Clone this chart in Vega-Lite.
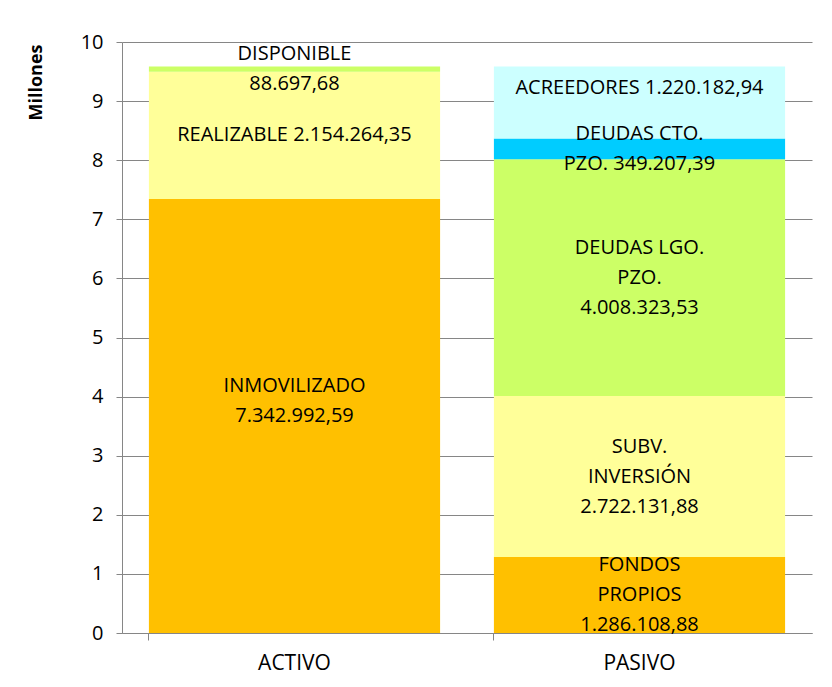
{
  "$schema": "https://vega.github.io/schema/vega-lite/v6.json",
  "autosize": "none",
  "width": 690,
  "height": 591,
  "padding": {"left": 122, "top": 42, "right": 20, "bottom": 54},
  "background": "white",
  "config": {"view": {"stroke": null}, "font": "Open Sans"},
  "data": {"values": [
    {"cat": "ACTIVO", "seg": "INMOVILIZADO", "order": 1, "value": 7.34299259, "label": ["INMOVILIZADO", "7.342.992,59", ""]},
    {"cat": "ACTIVO", "seg": "REALIZABLE", "order": 2, "value": 2.15426435, "label": ["REALIZABLE 2.154.264,35"]},
    {"cat": "ACTIVO", "seg": "DISPONIBLE", "order": 3, "value": 0.08869768, "label": ["DISPONIBLE", "88.697,68"]},
    {"cat": "PASIVO", "seg": "FONDOS PROPIOS", "order": 1, "value": 1.28610888, "label": ["FONDOS", "PROPIOS", "1.286.108,88"]},
    {"cat": "PASIVO", "seg": "SUBV. INVERSIÓN", "order": 2, "value": 2.72213188, "label": ["SUBV.", "INVERSIÓN", "2.722.131,88"]},
    {"cat": "PASIVO", "seg": "DEUDAS LGO. PZO.", "order": 3, "value": 4.00832353, "label": ["DEUDAS LGO.", "PZO.", "4.008.323,53"]},
    {"cat": "PASIVO", "seg": "DEUDAS CTO. PZO.", "order": 4, "value": 0.34920739, "label": ["DEUDAS CTO.", "PZO. 349.207,39"]},
    {"cat": "PASIVO", "seg": "ACREEDORES", "order": 5, "value": 1.22018294, "label": ["ACREEDORES 1.220.182,94", ""]}
  ]},
  "transform": [
    {"stack": "value", "groupby": ["cat"], "sort": [{"field": "order", "order": "ascending"}], "as": ["y0", "y1"]},
    {"calculate": "(datum.y0 + datum.y1) / 2", "as": "mid"}
  ],
  "encoding": {
    "x": {
      "field": "cat", "type": "nominal", "title": null,
      "scale": {"paddingInner": 0.156, "paddingOuter": 0.078},
      "axis": {
        "labelAngle": 0, "labelFontSize": 21, "labelColor": "black", "labelPadding": 12,
        "domainColor": "#868686", "tickColor": "#868686", "tickSize": 7, "bandPosition": 0,
        "grid": false
      }
    }
  },
  "layer": [
    {
      "mark": {"type": "bar"},
      "encoding": {
        "y": {
          "field": "y0", "type": "quantitative",
          "scale": {"domain": [0, 10]},
          "title": "Millones",
          "axis": {
            "values": [0, 1, 2, 3, 4, 5, 6, 7, 8, 9, 10], "format": "d",
            "labelFontSize": 20, "labelColor": "black", "labelPadding": 13,
            "tickSize": 6, "tickColor": "#868686", "domainColor": "#868686",
            "grid": true, "gridColor": "#868686",
            "titleFontSize": 18, "titleFontWeight": "bold", "titleColor": "black",
            "titleX": -86, "titleY": 40, "titleAngle": -90, "titleAlign": "center", "titleBaseline": "middle"
          }
        },
        "y2": {"field": "y1"},
        "color": {
          "field": "seg", "type": "nominal", "legend": null,
          "scale": {
            "domain": ["INMOVILIZADO", "REALIZABLE", "DISPONIBLE", "FONDOS PROPIOS", "SUBV. INVERSIÓN", "DEUDAS LGO. PZO.", "DEUDAS CTO. PZO.", "ACREEDORES"],
            "range": ["#FFC000", "#FFFF99", "#CCFF66", "#FFC000", "#FFFF99", "#CCFF66", "#00CCFF", "#CCFFFF"]
          }
        }
      }
    },
    {
      "transform": [{"filter": "length(datum.label) == 1"}],
      "mark": {"type": "text", "fontSize": 20, "color": "black", "lineHeight": 30, "align": "center", "baseline": "middle"},
      "encoding": {"y": {"field": "mid", "type": "quantitative"}, "text": {"field": "label"}}
    },
    {
      "transform": [{"filter": "length(datum.label) == 2"}],
      "mark": {"type": "text", "fontSize": 20, "color": "black", "lineHeight": 30, "align": "center", "baseline": "middle", "dy": -15},
      "encoding": {"y": {"field": "mid", "type": "quantitative"}, "text": {"field": "label"}}
    },
    {
      "transform": [{"filter": "length(datum.label) == 3"}],
      "mark": {"type": "text", "fontSize": 20, "color": "black", "lineHeight": 30, "align": "center", "baseline": "middle", "dy": -30},
      "encoding": {"y": {"field": "mid", "type": "quantitative"}, "text": {"field": "label"}}
    }
  ]
}
